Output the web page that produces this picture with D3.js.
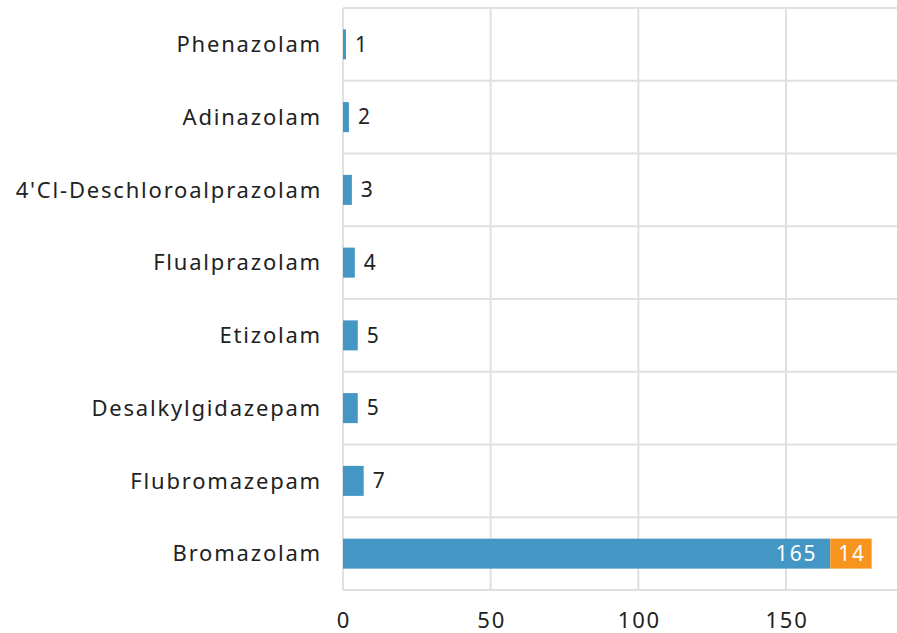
<!DOCTYPE html>
<html>
<head>
<meta charset="utf-8">
<script src="https://cdn.jsdelivr.net/npm/d3@7"></script>
<style>
  body { margin: 0; background: #fff; }
  svg text { font-family: "Noto Sans", "DejaVu Sans", sans-serif; fill: #222; letter-spacing: 1.8px; }
</style>
</head>
<body>
<svg id="chart" width="897" height="633"></svg>
<script>
// values
var categories = ["Phenazolam", "Adinazolam", "4'Cl-Deschloroalprazolam", "Flualprazolam",
                  "Etizolam", "Desalkylgidazepam", "Flubromazepam", "Bromazolam"];
var seriesA = [1, 2, 3, 4, 5, 5, 7, 165];   // blue
var seriesB = [0, 0, 0, 0, 0, 0, 0, 14];    // orange
var xTicks = [0, 50, 100, 150];

var colors = ["#4496c4", "#f7941d"];

var plotLeft = 343, plotRight = 897, plotTop = 8, plotBottom = 590;
var labelX = 322;  // letter-spacing leaves a trailing gap, so nudge right

var svg = d3.select("#chart");

var x = d3.scaleLinear().domain([0, 150]).range([plotLeft, 786]);
var y = d3.scaleBand().domain(categories).range([plotTop, plotBottom]).paddingInner(0).paddingOuter(0);
var barH = 30;

// grid
var grid = svg.append("g").attr("stroke", "#e0e0e0").attr("stroke-width", 2);
xTicks.forEach(function(t) {
    grid.append("line").attr("x1", x(t)).attr("x2", x(t)).attr("y1", plotTop).attr("y2", plotBottom);
});
categories.forEach(function(c) {
    grid.append("line").attr("x1", plotLeft).attr("x2", plotRight).attr("y1", y(c)).attr("y2", y(c));
});
grid.append("line").attr("x1", plotLeft).attr("x2", plotRight).attr("y1", plotBottom).attr("y2", plotBottom);

// stacked bars
var stacked = categories.map(function(c, i) {
    return {cat: c, a: seriesA[i], b: seriesB[i]};
});

var rows = svg.append("g").selectAll("g").data(stacked).enter().append("g");

rows.append("rect")
    .attr("x", x(0))
    .attr("y", d => y(d.cat) + (y.bandwidth() - barH) / 2)
    .attr("width", d => x(d.a) - x(0))
    .attr("height", barH)
    .attr("fill", colors[0]);

rows.filter(d => d.b > 0).append("rect")
    .attr("x", d => x(d.a))
    .attr("y", d => y(d.cat) + (y.bandwidth() - barH) / 2)
    .attr("width", d => x(d.a + d.b) - x(d.a))
    .attr("height", barH)
    .attr("fill", colors[1]);

var fs = 21;

// value labels: outside for small bars, inside for the big one
rows.append("text")
    .attr("x", d => d.b > 0 ? x(d.a) - 13 : x(d.a) + 9)
    .attr("y", d => y(d.cat) + y.bandwidth() / 2)
    .attr("dy", "0.35em")
    .attr("text-anchor", d => d.b > 0 ? "end" : "start")
    .style("font-size", fs + "px")
    .style("fill", d => d.b > 0 ? "#fff" : "#222")
    .text(d => d.a);

rows.filter(d => d.b > 0).append("text")
    .attr("x", d => (x(d.a) + x(d.a + d.b)) / 2 + 1)
    .attr("y", d => y(d.cat) + y.bandwidth() / 2)
    .attr("dy", "0.35em")
    .attr("text-anchor", "middle")
    .style("font-size", fs + "px")
    .style("fill", "#fff")
    .text(d => d.b);

// category labels
svg.append("g").selectAll("text").data(categories).enter().append("text")
    .attr("x", labelX)
    .attr("y", d => y(d) + y.bandwidth() / 2)
    .attr("dy", "0.35em")
    .attr("text-anchor", "end")
    .style("font-size", "22px")
    .text(d => d);

// x tick labels
svg.append("g").selectAll("text").data(xTicks).enter().append("text")
    .attr("x", d => x(d) + 1)
    .attr("y", 628)
    .attr("text-anchor", "middle")
    .style("font-size", "22px")
    .text(d => d);
</script>
</body>
</html>
